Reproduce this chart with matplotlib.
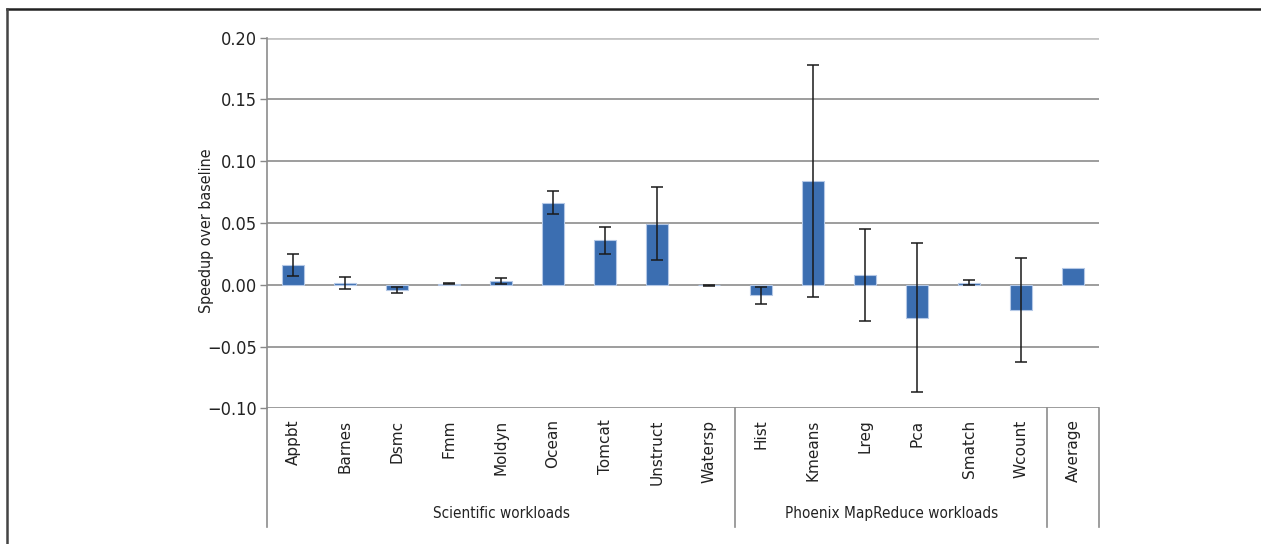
import matplotlib
matplotlib.use("Agg")
import matplotlib.pyplot as plt
from matplotlib.lines import Line2D
from matplotlib.ticker import FuncFormatter
import matplotlib.transforms as mtransforms
import numpy as np

# speedup per workload, with error bars (Average has none)
workloads = ["Appbt", "Barnes", "Dsmc", "Fmm", "Moldyn", "Ocean", "Tomcat", "Unstruct", "Watersp",
             "Hist", "Kmeans", "Lreg", "Pca", "Smatch", "Wcount", "Average"]
speedup = [0.016, 0.0013, -0.0042, 0.001, 0.0028, 0.0665, 0.036, 0.0495, -0.0005,
           -0.0085, 0.084, 0.0078, -0.0265, 0.0018, -0.0205, 0.0135]
err = [0.009, 0.0049, 0.0026, 0.0005, 0.0025, 0.0092, 0.011, 0.0297, 0.0003,
       0.0068, 0.094, 0.037, 0.0605, 0.0020, 0.042]
groups = ["Scientific workloads", "Phoenix MapReduce workloads", None]
group_sizes = [9, 6, 1]

narrow = dict(family="DejaVu Sans", stretch="condensed")

fig = plt.figure(figsize=(12.61, 5.44), dpi=100)
ax = fig.add_axes([0.2117, 0.2494, 0.66, 0.6813])

x = np.arange(len(workloads))
ax.bar(x, speedup, width=0.42, color="#3b6eb1", edgecolor="#b4c8e6", linewidth=0.8, zorder=3)
ax.errorbar(x[:len(err)], speedup[:len(err)], yerr=err, fmt="none", ecolor="#1a1a1a",
            elinewidth=1.1, capsize=4.5, capthick=1.1, zorder=4)

ax.set_xlim(-0.5, len(workloads) - 0.5)
ax.set_ylim(-0.10, 0.20)
ax.set_yticks(np.arange(-0.10, 0.201, 0.05))
ax.yaxis.set_major_formatter(FuncFormatter(lambda v, p: f"{v:.2f}".replace("-", "\u2212")))
for lbl in ax.get_yticklabels():
    lbl.set_family("DejaVu Sans")
    lbl.set_stretch("condensed")
    lbl.set_fontsize(13)
    lbl.set_color("#222222")
ax.tick_params(axis="y", length=5, color="#888888", width=1, pad=2)
ax.grid(axis="y", color="#8c8c8c", linewidth=1.2, zorder=0)
ax.set_axisbelow(True)

ax.set_xticks(x)
ax.set_xticklabels(workloads, rotation=90, fontsize=11, family="DejaVu Sans", color="#222222")
ax.tick_params(axis="x", length=0, pad=8)

for s in ["top", "right", "bottom"]:
    ax.spines[s].set_visible(False)
ax.spines["left"].set_color("#8c8c8c")
ax.spines["left"].set_linewidth(1.2)
ax.axhline(0.20, color="#c4c4c4", linewidth=2, zorder=1)

ax.set_ylabel("Speedup over baseline", fontsize=11.5, color="#222222", **narrow)
ax.yaxis.set_label_coords(-0.064, 0.48)

# group separators and labels under the axis
trans = mtransforms.blended_transform_factory(ax.transData, ax.transAxes)
bottom = -0.321
edge = -0.5
ax.plot([edge, edge], [0, bottom], transform=trans, color="#8c8c8c", lw=1.2, clip_on=False)
for name, size in zip(groups, group_sizes):
    ax.plot([edge + size, edge + size], [0, bottom], transform=trans, color="#8c8c8c",
            lw=1.2, clip_on=False)
    if name:
        ax.text(edge + size / 2, -0.283, name, transform=trans, ha="center", va="center",
                fontsize=11, color="#222222", **narrow)
    edge += size

# outer frame (top and left edges)
fig.add_artist(Line2D([0.0055, 1.0], [1 - 8.5 / 544, 1 - 8.5 / 544], color="#222222", lw=1.8))
fig.add_artist(Line2D([0.0055, 0.0055], [0.0, 1 - 8.5 / 544], color="#444444", lw=1.8))

fig.savefig("out.png", dpi=100)
